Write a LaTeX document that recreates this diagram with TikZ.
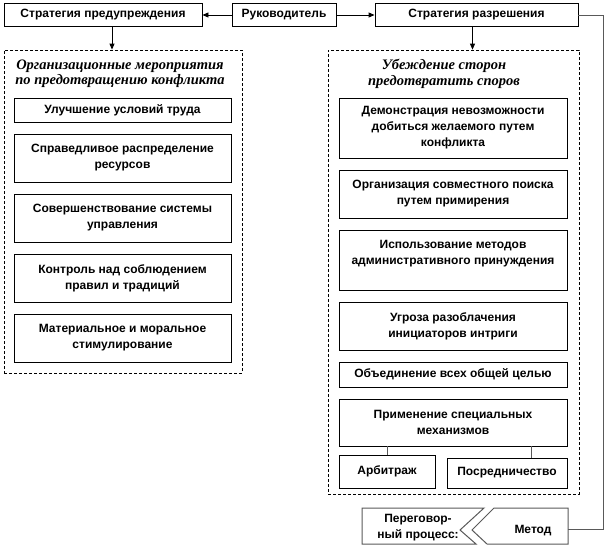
\documentclass[tikz,border=0pt]{standalone}
\usepackage{fontspec}
\setmainfont{Liberation Sans}
\newfontfamily\titlefont{Liberation Serif}
\usetikzlibrary{arrows.meta,positioning,calc}

\begin{document}
\begin{tikzpicture}[x=1pt, y=-1pt,
    box/.style={draw, line width=0.9pt, align=center, inner sep=1pt, font=\bfseries\fontsize{12}{16}\selectfont},
    lbox/.style={box, minimum width=217, minimum height=48},
    rbox/.style={box, minimum width=228, minimum height=48},
    frame/.style={draw, line width=0.8pt, dash pattern=on 3pt off 2pt, inner sep=0pt},
    ttl/.style={align=center, font=\titlefont\bfseries\itshape\fontsize{14.5}{15.5}\selectfont},
    arr/.style={line width=0.9pt, -{Triangle[length=6pt,width=5pt]}},
    gline/.style={line width=1pt, black!65}
  ]
\useasboundingbox (0,0) rectangle (604,555);

% Top row
\node[box, minimum width=198, minimum height=23] (predupr) at (103,15) {Стратегия предупреждения};
\node[box, minimum width=104, minimum height=23] (ruk) at (284,15) {Руководитель};
\node[box, minimum width=203, minimum height=23] (razr) at (476.5,15) {Стратегия разрешения};

\draw[arr] (ruk) -- (predupr);
\draw[arr] (ruk) -- (razr);

% Dashed frames
\node[frame, minimum width=238, minimum height=323] (org) at (123,211.5) {};
\node[frame, minimum width=251, minimum height=444] (ubezh) at (453.5,272) {};

\draw[arr] ([xshift=9pt]predupr.south) -- ([xshift=9pt]predupr.south |- org.north);
\draw[arr] ([xshift=-4pt]razr.south) -- ([xshift=-4pt]razr.south |- ubezh.north);

% Left column
\node[ttl] (orgT) at (120,73.5) {Организационные мероприятия\\по предотвращению конфликта};
\node[lbox, minimum height=24] (l1) at (122.5,110) {Улучшение условий труда};
\node[lbox] (l2) at (122.5,158) {Справедливое распределение\\ресурсов};
\node[lbox] (l3) at (122.5,218) {Совершенствование системы\\управления};
\node[lbox] (l4) at (122.5,278) {Контроль над соблюдением\\правил и традиций};
\node[lbox] (l5) at (122.5,338) {Материальное и моральное\\стимулирование};

% Right column
\node[ttl] (ubezhT) at (444,74) {Убеждение сторон\\предотвратить споров};
\node[rbox, minimum height=60] (r1) at (453,128) {Демонстрация невозможности\\добиться желаемого путем\\конфликта};
\node[rbox] (r2) at (453,194) {Организация совместного поиска\\путем примирения};
\node[rbox, minimum height=60] (r3) at (453,260) {Использование методов\\административного принуждения\\[0pt]};
\node[rbox] (r4) at (453,326) {Угроза разоблачения\\инициаторов интриги};
\node[rbox, minimum height=25] (r5) at (453,374.5) {Объединение всех общей целью};
\node[rbox, minimum height=47] (r6) at (453,422.5) {Применение специальных\\механизмов};
\node[box, minimum width=96, minimum height=33] (arb) at (387,471.5) {Арбитраж};
\node[box, minimum width=120, minimum height=30] (posr) at (507,473) {Посредничество};

\draw[gline] (arb.north) -- (arb.north |- r6.south);
\draw[gline] ([xshift=24pt]posr.north) -- ([xshift=24pt]posr.north |- r6.south);

% Bottom: method
\draw[gline] (362,508) -- (484,508) -- (460,530) -- (476,544) -- (362,544) -- cycle;
\draw[gline] (494,508) -- (568,508) -- (568,544) -- (487,544) -- (472,530) -- cycle;
\node[box, draw=none] (pereg) at (418,528) {Переговор-\\ный процесс:};
\node[box, draw=none] (metod) at (533,531) {Метод};
\coordinate (metodR) at (568,529);

\draw[gline] (razr.east) -- ++(25,0) |- (metodR);

\end{tikzpicture}
\end{document}
